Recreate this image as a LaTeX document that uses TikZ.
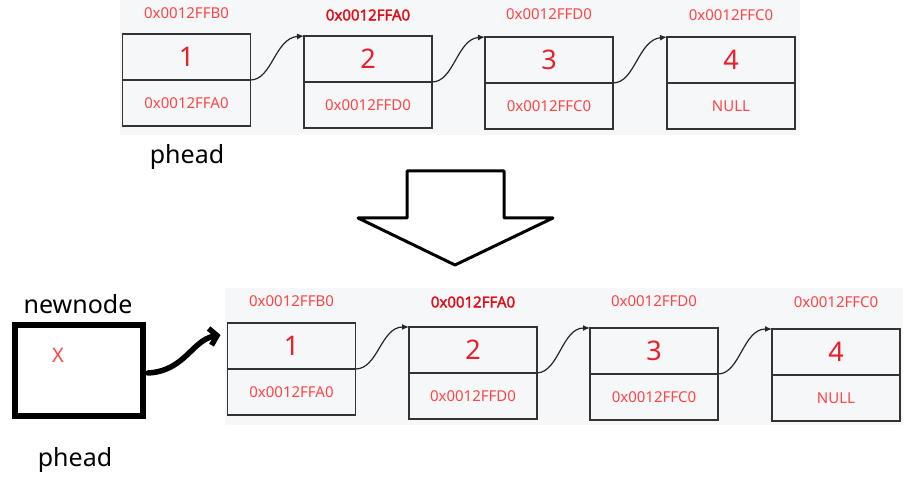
\documentclass[tikz,border=0pt]{standalone}
\usepackage{fontspec}
\setmainfont{Noto Sans}
\newfontfamily\addrbold{Noto Sans}[FakeBold=2]
\usetikzlibrary{arrows.meta,positioning}
\definecolor{addrred}{HTML}{FF4545}
\definecolor{numred}{HTML}{E8202A}
\definecolor{boldred}{HTML}{E0101A}
\definecolor{boxline}{HTML}{333333}
\definecolor{panel}{HTML}{F6F7F9}
\begin{document}
\begin{tikzpicture}[x=1pt, y=-1pt,
  upper/.style={draw=boxline, line width=1.6pt, outer sep=0pt, minimum width=128pt, minimum height=46pt, font=\fontsize{27}{29}\selectfont, text=numred},
  lower/.style={draw=boxline, line width=1.6pt, outer sep=0pt, minimum width=128pt, minimum height=46pt, font=\fontsize{15}{17}\selectfont, text=addrred},
  addr/.style={font=\fontsize{15}{17}\selectfont, text=addrred},
  boldaddr/.style={font=\addrbold\fontsize{15}{17}\selectfont, text=boldred},
  link/.style={draw=black!85, line width=1.2pt, -{Latex[length=7pt,width=6pt]}},
  caption/.style={font=\fontsize{25}{28}\selectfont}]
\useasboundingbox (0,0) rectangle (910,478);
% screenshot panels
\fill[panel] (120,0) rectangle (800,135);
\fill[panel] (225,288) rectangle (903,425);

% list before
\node[upper] (t1) at (186.5,57) {1};
\node[lower, below=0pt of t1] (b1) {0x0012FFA0};
\node[addr] () at ([yshift=21pt]t1.north) {0x0012FFB0};
\node[upper] (t2) at (368,59) {2};
\node[lower, below=0pt of t2] (b2) {0x0012FFD0};
\node[boldaddr] () at ([yshift=21pt]t2.north) {0x0012FFA0};
\node[upper] (t3) at (549,60) {3};
\node[lower, below=0pt of t3] (b3) {0x0012FFC0};
\node[addr] () at ([yshift=23pt]t3.north) {0x0012FFD0};
\node[upper] (t4) at (731,60) {4};
\node[lower, below=0pt of t4] (b4) {NULL};
\node[addr] () at ([yshift=22pt]t4.north) {0x0012FFC0};
\draw[link] (t1.south east) .. controls (272,80) and (275,38) .. (t2.north west);
\draw[link] (t2.south east) .. controls (454,82) and (457,39) .. (t3.north west);
\draw[link] (t3.south east) .. controls (635,83) and (638,40) .. (t4.north west);
\node[caption] (ph1) at (187,157) {phead};

% big arrow
\draw[line width=3pt, line join=round, fill=white] (407,171) -- (504,171) -- (504,218) -- (553,218) -- (455,265) -- (358,218) -- (407,218) -- cycle;

% list after
\node[caption] (nnlabel) at (78,304) {newnode};
\node[draw, line width=6pt, outer sep=0pt, minimum width=128pt, minimum height=91pt] (nn) at (79,370) {};
\node[addr, font=\fontsize{20}{22}\selectfont] (x) at (58,355) {X};
\node[caption] (ph2) at (75,460) {phead};

\node[upper] (u1) at (291.5,346) {1};
\node[lower, below=0pt of u1] (v1) {0x0012FFA0};
\node[addr] () at ([yshift=45pt]u1.center) {0x0012FFB0};
\node[upper] (u2) at (473,350) {2};
\node[lower, below=0pt of u2] (v2) {0x0012FFD0};
\node[boldaddr] () at ([yshift=48pt]u2.center) {0x0012FFA0};
\node[upper] (u3) at (654,351) {3};
\node[lower, below=0pt of u3] (v3) {0x0012FFC0};
\node[addr] () at ([yshift=50pt]u3.center) {0x0012FFD0};
\node[upper] (u4) at (836,352) {4};
\node[lower, below=0pt of u4] (v4) {NULL};
\node[addr] () at ([yshift=50pt]u4.center) {0x0012FFC0};
\draw[link] (u1.south east) .. controls (378,369) and (381,327) .. (u2.north west);
\draw[link] (u2.south east) .. controls (559,372) and (562,328) .. (u3.north west);
\draw[link] (u3.south east) .. controls (740,374) and (743,329) .. (u4.north west);
\draw[line width=5.5pt, line cap=round, -{Straight Barb[length=7pt,width=17pt,line width=5.5pt]}]
  ([shift={(5,3)}]nn.east) .. controls (185,371) and (192,340) .. ([shift={(-7,12)}]u1.north west);
\end{tikzpicture}
\end{document}
